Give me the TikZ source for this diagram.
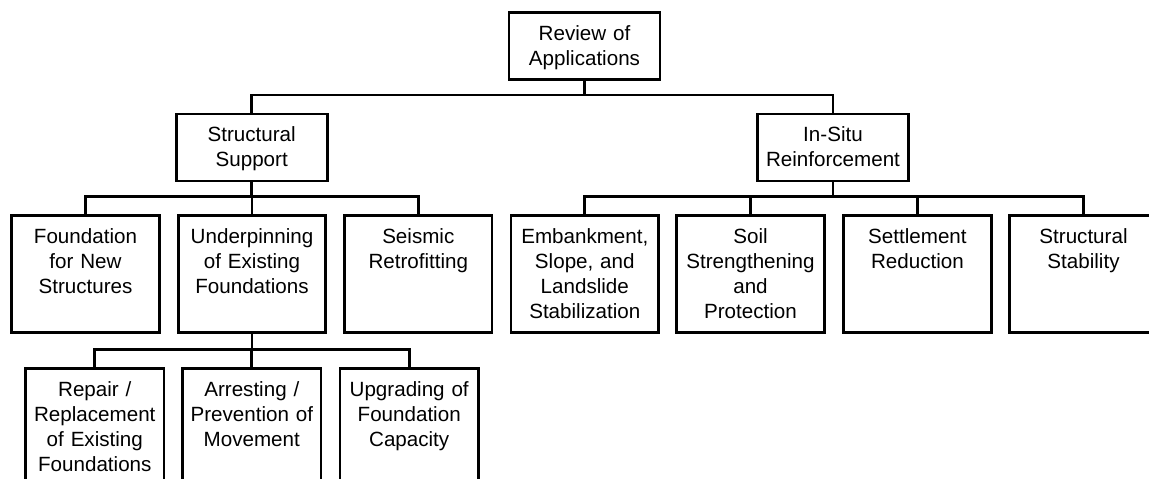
\documentclass[tikz,border=0pt]{standalone}
\usepackage{fontspec}
\setmainfont{Liberation Sans}

\begin{document}
\begin{tikzpicture}[x=0.5pt,y=-0.5pt,line width=1.35pt,
  box/.style={draw,anchor=north,align=center,inner sep=0pt,
    font=\fontsize{10.3}{12.5}\selectfont,text height=13.85pt},
  topbox/.style={box,text width=75.5pt,text depth=19.65pt},
  midbox/.style={box,text width=73.75pt,text depth=44.65pt},
  lowbox/.style={box,text width=69.15pt,text depth=56.15pt}]
\useasboundingbox (0,0) rectangle (1149,478);
\clip (0,0) rectangle (1149,478);
% levels
\node[topbox] (rev) at (584.5,11) {Review of\\Applications};
\node[topbox] (sup) at (251.7,112.5) {Structural\\Support};
\node[topbox] (ins) at (833,112.5) {In-Situ\\Reinforcement};
\node[midbox] (fnd) at (85.5,214) {Foundation\\for New\\Structures};
\node[midbox] (und) at (252,214) {Underpinning\\of Existing\\Foundations};
\node[midbox] (sei) at (418.3,214) {Seismic\\Retrofitting};
\node[midbox] (emb) at (584.8,214) {Embankment,\\Slope, and\\Landslide\\Stabilization};
\node[midbox] (soi) at (750.5,214) {Soil\\Strengthening\\and\\Protection};
\node[midbox] (set) at (917.4,214) {Settlement\\Reduction};
\node[midbox] (sta) at (1083.5,214) {Structural\\Stability};
\node[lowbox] (rep) at (94.8,367) {Repair /\\Replacement\\of Existing\\Foundations};
\node[lowbox] (arr) at (251.8,367) {Arresting /\\Prevention of\\Movement};
\node[lowbox] (upg) at (409.2,367) {Upgrading of\\Foundation\\Capacity};
% buses
\coordinate (bus0) at (0,95);
\coordinate (bus1) at (0,196.5);
\coordinate (bus2) at (0,349.5);
\draw (rev.south) -- (rev.south |- bus0);
\draw (sup.north) -- (sup.north |- bus0) -| (ins.north);
\draw (sup.south) -- (sup.south |- bus1);
\draw (fnd.north) -- (fnd.north |- bus1) -| (sei.north);
\draw (und.north) -- (und.north |- bus1);
\draw (ins.south) -- (ins.south |- bus1);
\draw (emb.north) -- (emb.north |- bus1) -| (sta.north);
\draw (soi.north) -- (soi.north |- bus1);
\draw (set.north) -- (set.north |- bus1);
\draw (und.south) -- (und.south |- bus2);
\draw (rep.north) -- (rep.north |- bus2) -| (upg.north);
\draw (arr.north) -- (arr.north |- bus2);
\end{tikzpicture}
\end{document}
